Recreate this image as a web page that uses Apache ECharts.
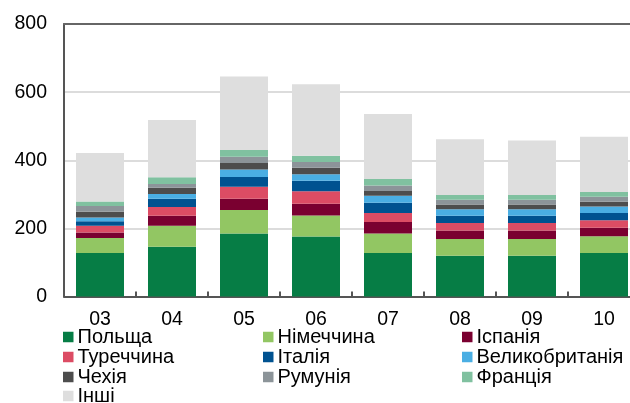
<!DOCTYPE html>
<html><head><meta charset="utf-8">
<script src="https://cdn.jsdelivr.net/npm/echarts@6/dist/echarts.min.js"></script>
<style>html,body{margin:0;padding:0;background:#fff}#c{width:630px;height:403px}</style>
</head><body><div id="c"></div>
<script>
const categories = ['03','04','05','06','07','08','09','10'];
const seriesNames = ['Польща','Німеччина','Іспанія','Туреччина','Італія','Великобританія','Чехія','Румунія','Франція','Інші'];
const poland   = [128,146,185,176,128,120,120,128];
const germany  = [44,62,69,62,57,49,49,49];
const spain    = [16,29,33,34,34,25,25,25];
const turkey   = [20,26,35,37,26,22,22,22];
const italy    = [13,24,29,31,30,21,21,21];
const uk       = [11,14,22,19,21,19,19,19];
const czech    = [17,18,19,19,14,14,14,14];
const romania  = [17,11,18,17,16,14,14,15];
const france   = [13,20,20,18,19,14,14,14];
const others   = [142,168,216,210,191,164,160,162];
const yTicks = [0,200,400,600,800];
const colors = ['#067D45','#92C663','#7A0030','#DC4C64','#005290','#4AAEE3','#4D4D4D','#8C9499','#80C1A0','#DEDEDE'];
const values = [poland,germany,spain,turkey,italy,uk,czech,romania,france,others];

const FONT = 'Liberation Sans, Arial, sans-serif';
const colX = [63,263,462];
const rowY = [337,357,377,396];
const legends = seriesNames.map((n,i)=>({
  data:[n], left: colX[i%3], top: rowY[Math.floor(i/3)]-10,
  itemWidth:10.5, itemHeight:10.5, itemGap:0, icon:'rect', padding:0,
  textStyle:{fontFamily:FONT, fontSize:20, color:'#000', padding:[0,0,0,-1], lineHeight:20},
  selectedMode:false
}));

const chart = echarts.init(document.getElementById('c'), null, {renderer:'canvas'});
chart.setOption({
  animation:false,
  color: colors,
  legend: legends,
  grid:{left:64, top:24, width:576, height:272.5, containLabel:false, outerBoundsMode:'none'},
  xAxis:[{type:'category', data:categories,
    axisLine:{lineStyle:{color:'#555', width:2}},
    axisTick:{show:true, inside:true, length:5, lineStyle:{color:'#555', width:2}},
    axisLabel:{fontFamily:FONT, fontSize:19.5, color:'#000', margin:13}},
   {type:'category', data:categories, position:'top',
    axisLine:{show:true, lineStyle:{color:'#666', width:2}},
    axisTick:{show:false}, axisLabel:{show:false}, splitLine:{show:false}}],
  yAxis:{type:'value', min:yTicks[0], max:yTicks[yTicks.length-1], interval:200,
    axisLine:{show:true, lineStyle:{color:'#555', width:2}},
    axisTick:{show:false},
    splitLine:{lineStyle:{color:'#d0d0d0', width:1.5}},
    axisLabel:{fontFamily:FONT, fontSize:19.5, color:'#000', margin:17}},
  series: seriesNames.map((n,i)=>({
    name:n, type:'bar', stack:'total', data:values[i], barWidth:48, xAxisIndex:0,
    itemStyle:{color:colors[i]}
  }))
});
</script></body></html>
